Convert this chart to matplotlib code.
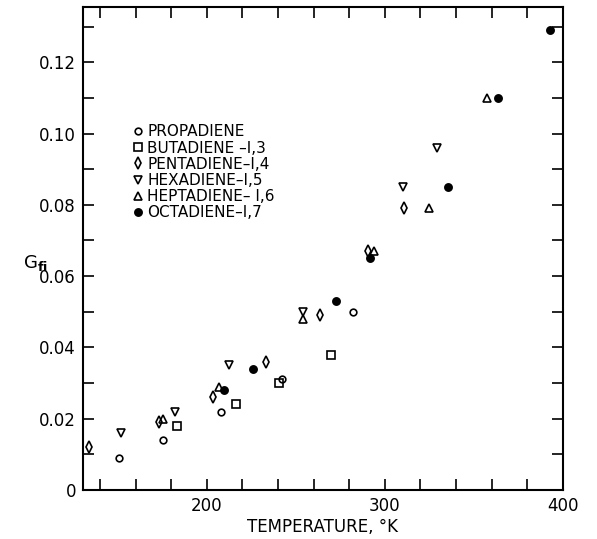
import matplotlib
matplotlib.use('Agg')
import matplotlib.pyplot as plt
import numpy as np
from matplotlib.ticker import MultipleLocator, FuncFormatter

matplotlib.rcParams['font.family'] = 'DejaVu Sans'
matplotlib.rcParams['font.size'] = 12

# data: temperature (K) vs G_fi
prop_t = [150.7, 175.4, 208.1, 242.2, 282.2]
prop_g = [0.009, 0.014, 0.022, 0.031, 0.050]

buta_t = [183.4, 216.6, 240.3, 269.5]
buta_g = [0.018, 0.024, 0.030, 0.038]

penta_t = [133.9, 173.1, 203.5, 233.4, 263.5, 290.4, 310.5]
penta_g = [0.012, 0.019, 0.026, 0.036, 0.049, 0.067, 0.079]

hexa_t = [151.7, 181.9, 212.3, 254.2, 310.2, 329.2]
hexa_g = [0.016, 0.022, 0.035, 0.050, 0.085, 0.096]

hepta_t = [175.4, 206.9, 254.2, 293.7, 324.5, 357.3]
hepta_g = [0.020, 0.029, 0.048, 0.067, 0.079, 0.110]

octa_t = [209.4, 226.2, 272.8, 291.9, 335.6, 363.4, 392.7]
octa_g = [0.028, 0.034, 0.053, 0.065, 0.085, 0.110, 0.129]

series = [
    ('PROPADIENE', prop_t, prop_g, 'o', 'none', 4.8),
    ('BUTADIENE \u2013I,3', buta_t, buta_g, 's', 'none', 5.8),
    ('PENTADIENE\u2013I,4', penta_t, penta_g, 'd', 'none', 5.8),
    ('HEXADIENE\u2013I,5', hexa_t, hexa_g, 'v', 'none', 5.2),
    ('HEPTADIENE\u2013 I,6', hepta_t, hepta_g, '^', 'none', 5.2),
    ('OCTADIENE\u2013I,7', octa_t, octa_g, 'o', 'black', 5.2),
]

fig = plt.figure(figsize=(5.97, 5.39), dpi=100)
ax = fig.add_axes([0.139, 0.091, 0.804, 0.896])

for name, t, g, m, fc, ms in series:
    ax.plot(t, g, linestyle='none', marker=m, markersize=ms,
            markerfacecolor=fc, markeredgecolor='black',
            markeredgewidth=1.2, label=name)

ax.set_xlim(130.5, 400)
ax.set_ylim(0, 0.1355)

ax.xaxis.set_major_locator(MultipleLocator(20))
ax.xaxis.set_major_formatter(FuncFormatter(
    lambda v, p: '%d' % v if abs(v % 100) < 1e-6 else ''))
ax.yaxis.set_major_locator(MultipleLocator(0.01))


def yfmt(v, p):
    k = int(round(v * 100))
    if k % 2:
        return ''
    return '0' if k == 0 else '%.2f' % v


ax.yaxis.set_major_formatter(FuncFormatter(yfmt))
ax.tick_params(direction='in', length=8, width=1.2, top=True, right=True,
               labelsize=12, pad=5)
for s in ax.spines.values():
    s.set_linewidth(1.5)

ax.set_xlabel('TEMPERATURE, \u00b0K', fontsize=12, labelpad=2)
ax.set_ylabel(r'G$_{\mathbf{fi}}$', fontsize=13, rotation=0)
ax.yaxis.set_label_coords(-0.1, 0.45)

ax.legend(loc='upper left', bbox_to_anchor=(0.105, 0.757), frameon=False,
          fontsize=11, handlelength=0.6, handletextpad=0.3,
          labelspacing=0.08, borderaxespad=0, borderpad=0)

fig.savefig('out.png', dpi=100)
